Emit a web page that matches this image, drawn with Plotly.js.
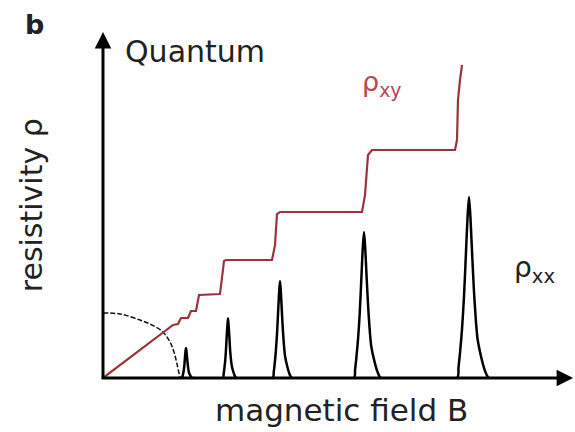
<!DOCTYPE html>
<html>
<head>
<meta charset="utf-8">
<script src="https://cdn.plot.ly/plotly-3.0.1.min.js"></script>
<style>
  html, body { margin: 0; padding: 0; background: #ffffff; }
  #chart { width: 575px; height: 432px; }
</style>
</head>
<body>
<div id="chart"></div>
<script>
// Hall resistivity rho_xy: linear at low field, then quantised plateaus
const rhoXyB = [0, 1.271, 1.483, 1.589, 1.653, 1.801, 1.864, 1.970, 2.034, 2.479, 2.521, 2.564, 2.606,
                3.581, 3.644, 3.686, 3.750, 5.487, 5.551, 5.614, 5.699, 7.458, 7.500, 7.521, 7.564, 7.606];
const rhoXy  = [0, 1.329, 1.532, 1.561, 1.734, 1.734, 1.936, 1.936, 2.399, 2.428, 2.832, 3.382, 3.410,
                3.410, 3.844, 4.740, 4.798, 4.798, 5.289, 6.445, 6.590, 6.590, 6.879, 8.035, 8.613, 9.046];

// Classical longitudinal resistivity at low field (arc from the axis)
const rhoClassicB = [0, 0.360, 0.784, 1.038, 1.271, 1.419, 1.504, 1.568, 1.631];
const rhoClassic  = [1.879, 1.850, 1.676, 1.532, 1.329, 1.040, 0.751, 0.405, 0];

// Shubnikov-de Haas peaks of rho_xx, zero between Landau levels
const rhoXxB = [
  1.631,
  1.678, 1.686, 1.697, 1.712, 1.725, 1.737, 1.748, 1.758, 1.769, 1.780, 1.797, 1.816, 1.839, 1.867, 1.894,
  2.542, 2.555, 2.568, 2.587, 2.604, 2.621, 2.636, 2.648, 2.661, 2.676, 2.697, 2.725, 2.754, 2.790, 2.826,
  3.597, 3.617, 3.636, 3.661, 3.686, 3.712, 3.731, 3.750, 3.769, 3.788, 3.820, 3.858, 3.903, 3.953, 4.004,
  5.314, 5.341, 5.368, 5.404, 5.440, 5.476, 5.502, 5.530, 5.557, 5.584, 5.629, 5.682, 5.746, 5.818, 5.890,
  7.500, 7.532, 7.564, 7.606, 7.648, 7.691, 7.722, 7.754, 7.786, 7.818, 7.871, 7.934, 8.008, 8.093, 8.178,
  9.900
];
const rhoXx = [
  0,
  0, 0.05, 0.12, 0.23, 0.39, 0.61, 0.77, 0.87, 0.77, 0.61, 0.37, 0.19, 0.10, 0.03, 0,
  0, 0.10, 0.24, 0.47, 0.78, 1.21, 1.52, 1.73, 1.52, 1.21, 0.74, 0.38, 0.21, 0.07, 0,
  0, 0.17, 0.39, 0.76, 1.26, 1.96, 2.46, 2.80, 2.46, 1.96, 1.20, 0.62, 0.34, 0.11, 0,
  0, 0.25, 0.59, 1.14, 1.90, 2.95, 3.71, 4.22, 3.71, 2.95, 1.81, 0.93, 0.51, 0.17, 0,
  0, 0.31, 0.73, 1.41, 2.35, 3.66, 4.60, 5.23, 4.60, 3.66, 2.25, 1.15, 0.63, 0.21, 0,
  0
];

const textFont = 'DejaVu Sans, Verdana, sans-serif';
const ink = '#222222';
const hallRed = '#9a343c';

const traces = [
  {
    x: rhoClassicB, y: rhoClassic, type: 'scatter', mode: 'lines',
    line: { color: '#111111', width: 1.5, shape: 'spline', dash: '5px,2px' },
    hoverinfo: 'skip'
  },
  {
    x: rhoXxB, y: rhoXx, type: 'scatter', mode: 'lines',
    line: { color: '#000000', width: 2.5, shape: 'spline', smoothing: 0.8 },
    hoverinfo: 'skip'
  },
  {
    x: rhoXyB, y: rhoXy, type: 'scatter', mode: 'lines',
    line: { color: hallRed, width: 2.2 },
    hoverinfo: 'skip'
  }
];

const axisArrow = (x, y, ax, ay) => ({
  x: x, y: y, ax: ax, ay: ay, xref: 'x', yref: 'y', axref: 'x', ayref: 'y',
  text: '', showarrow: true, arrowhead: 2, arrowsize: 1.1, arrowwidth: 3,
  arrowcolor: '#000000', standoff: 0, startstandoff: 0
});

const layout = {
  width: 575, height: 432,
  margin: { l: 103, r: 0, t: 32, b: 54 },
  paper_bgcolor: '#ffffff', plot_bgcolor: '#ffffff',
  showlegend: false,
  xaxis: { range: [0, 10], visible: false, fixedrange: true },
  yaxis: { range: [0, 10], visible: false, fixedrange: true },
  annotations: [
    axisArrow(0, 10, 0, -0.06),
    axisArrow(9.96, 0, -0.06, 0),
    { text: '<b>b</b>', xref: 'paper', yref: 'paper', x: -0.146, y: 1.023,
      xanchor: 'center', yanchor: 'middle', showarrow: false,
      font: { family: textFont, size: 27, color: ink } },
    { text: 'Quantum', xref: 'paper', yref: 'paper', x: 0.042, y: 0.944,
      xanchor: 'left', yanchor: 'middle', showarrow: false,
      font: { family: textFont, size: 30, color: ink } },
    { text: 'ρ<sub>xy</sub>', xref: 'paper', yref: 'paper', x: 0.545, y: 0.852,
      xanchor: 'left', yanchor: 'middle', showarrow: false,
      font: { family: textFont, size: 27, color: '#b8454f' } },
    { text: 'ρ<sub>xx</sub>', xref: 'paper', yref: 'paper', x: 0.867, y: 0.314,
      xanchor: 'left', yanchor: 'middle', showarrow: false,
      font: { family: textFont, size: 28, color: ink } },
    { text: 'resistivity ρ', xref: 'paper', yref: 'paper', x: -0.152, y: 0.5,
      xanchor: 'center', yanchor: 'middle', textangle: -90, showarrow: false,
      font: { family: textFont, size: 30, color: ink } },
    { text: 'magnetic field B', xref: 'paper', yref: 'paper', x: 0.505, y: -0.0925,
      xanchor: 'center', yanchor: 'middle', showarrow: false,
      font: { family: textFont, size: 31, color: ink } }
  ]
};

Plotly.newPlot('chart', traces, layout, { staticPlot: true, displayModeBar: false });
</script>
</body>
</html>
